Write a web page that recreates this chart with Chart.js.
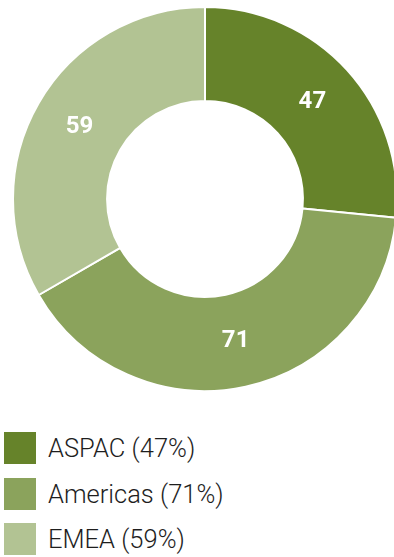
<!DOCTYPE html>
<html>
<head>
<meta charset="utf-8">
<script src="https://cdn.jsdelivr.net/npm/chart.js@4"></script>
<style>
    html, body { margin: 0; padding: 0; background: #fff; overflow: hidden; }
    body { width: 394px; height: 557px; position: relative; }
    #chart-wrap { position: absolute; left: 0; top: 0; width: 410px; height: 398px; }
    #legend { position: absolute; left: 4px; top: 432px; margin: 0; padding: 0; list-style: none; }
    #legend li { display: flex; align-items: center; height: 32px; margin-bottom: 13.5px; }
    #legend .swatch { width: 32px; height: 32px; margin-right: 12px; }
    #legend .text { font-family: Roboto, "Liberation Sans", sans-serif; font-weight: 300; font-size: 25.5px; color: #1e1e1e; }
</style>
</head>
<body>
<div id="chart-wrap"><canvas id="donut"></canvas></div>
<ul id="legend"></ul>
<script>
// ===== Regions and their shares =====
const regions = ['ASPAC', 'Americas', 'EMEA'];
const shares = [47, 71, 59];
const regionColors = ['#66832A', '#8BA35C', '#B2C393'];

// ===== White value labels in the middle of each ring segment =====
const segmentLabels = {
    id: 'segmentLabels',
    afterDatasetsDraw(chart) {
        const ctx = chart.ctx;
        const meta = chart.getDatasetMeta(0);
        ctx.save();
        ctx.fillStyle = '#fff';
        ctx.font = 'bold 24px Roboto, "Liberation Sans", sans-serif';
        ctx.textAlign = 'center';
        ctx.textBaseline = 'middle';
        meta.data.forEach((arc, i) => {
            const p = arc.tooltipPosition();
            ctx.fillText(String(chart.data.datasets[0].data[i]), p.x, p.y);
        });
        ctx.restore();
    }
};

new Chart(document.getElementById('donut'), {
    type: 'doughnut',
    data: {
        labels: regions,
        datasets: [{
            data: shares,
            backgroundColor: regionColors,
            borderColor: '#fff',
            borderWidth: 2
        }]
    },
    options: {
        responsive: true,
        maintainAspectRatio: false,
        animation: false,
        radius: 192,
        cutout: 101,
        plugins: { legend: { display: false }, tooltip: { enabled: false } }
    },
    plugins: [segmentLabels]
});

// ===== Legend below the chart =====
const legend = document.getElementById('legend');
regions.forEach((name, i) => {
    const li = document.createElement('li');
    li.innerHTML = `<span class="swatch" style="background:${regionColors[i]}"></span>` +
        `<span class="text">${name} (${shares[i]}%)</span>`;
    legend.appendChild(li);
});
</script>
</body>
</html>
